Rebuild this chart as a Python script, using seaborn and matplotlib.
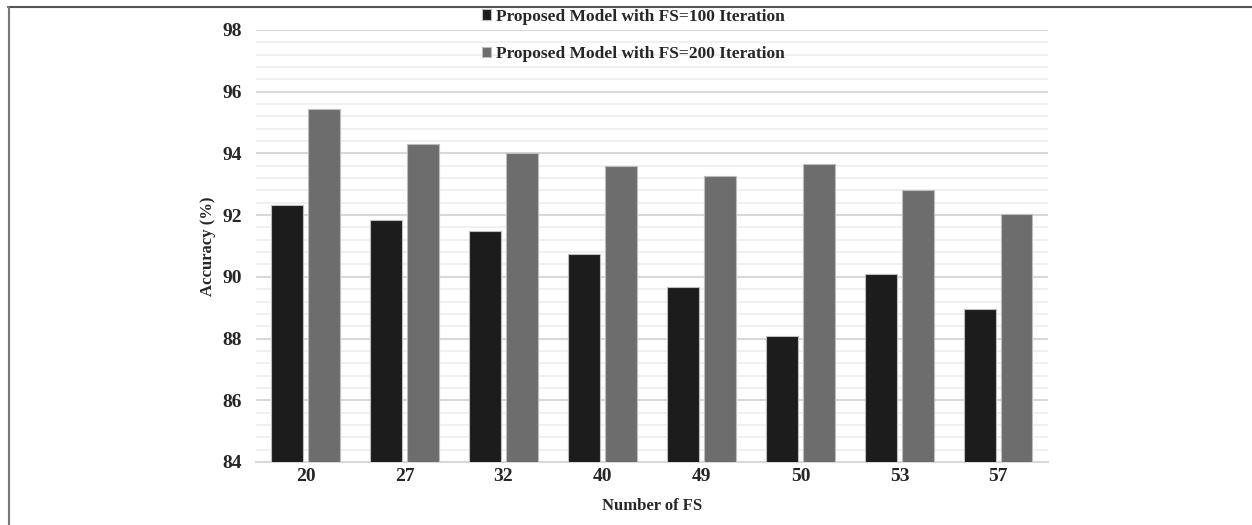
import pandas as pd
import numpy as np
import matplotlib.pyplot as plt
import seaborn as sns
from matplotlib.lines import Line2D
from matplotlib.ticker import MultipleLocator

# values
num_fs = ['20', '27', '32', '40', '49', '50', '53', '57']
acc_100 = [92.33, 91.83, 91.48, 90.73, 89.68, 88.08, 90.09, 88.97]
acc_200 = [95.45, 94.31, 94.02, 93.60, 93.26, 93.65, 92.82, 92.02]
series = ['Proposed Model with FS=100 Iteration',
          'Proposed Model with FS=200 Iteration']

df = pd.DataFrame({'fs': num_fs * 2,
                   'acc': acc_100 + acc_200,
                   'model': [series[0]] * len(num_fs) + [series[1]] * len(num_fs)})

sns.set_style('white')
plt.rcParams['font.family'] = ['Liberation Serif', 'DejaVu Serif']
plt.rcParams['font.weight'] = 'bold'

fig = plt.figure(figsize=(12.52, 5.25), dpi=100)
ax = fig.add_axes([0.2045, 0.12, 0.6325, 0.823])

sns.barplot(data=df, x='fs', y='acc', hue='model', order=num_fs,
            palette=['#1c1c1c', '#6d6d6d'], width=0.74, gap=0.14,
            edgecolor='#bdbdbd', linewidth=0.8, ax=ax, zorder=3)

ax.set_ylim(84, 98)
ax.yaxis.set_major_locator(MultipleLocator(2))
ax.yaxis.set_minor_locator(MultipleLocator(0.4))
ax.grid(which='major', axis='y', color='#d8d8d8', linewidth=1.5, zorder=0)
ax.grid(which='minor', axis='y', color='#eeeeee', linewidth=1.2, zorder=0)
ax.set_axisbelow(True)
for s in ['top', 'right', 'left']:
    ax.spines[s].set_visible(False)
ax.spines['bottom'].set_color('#d8d8d8')
ax.spines['bottom'].set_linewidth(1.5)
ax.tick_params(axis='both', length=0, labelsize=14)
ax.tick_params(axis='y', pad=10)
ax.tick_params(axis='x', pad=4)
for lbl in ax.get_xticklabels() + ax.get_yticklabels():
    lbl.set_fontweight('bold')

ax.set_xlabel('Number of FS', fontsize=12, fontweight='bold', labelpad=10)
ax.set_ylabel('Accuracy (%)', fontsize=12, fontweight='bold', labelpad=5)

leg = ax.legend(loc='upper left', bbox_to_anchor=(0.265, 1.085), frameon=False,
                fontsize=12.5, handlelength=0.55, handleheight=0.55,
                handletextpad=0.3, labelspacing=1.22)
for t in leg.get_texts():
    t.set_fontweight('bold')

# thin frame lines of the original figure
fig.add_artist(Line2D([0.006, 1.0], [0.986, 0.986], color='#555555', lw=1.5))
fig.add_artist(Line2D([0.007, 0.007], [0.0, 0.986], color='#777777', lw=1.5))

fig.savefig('out.png', dpi=100)
